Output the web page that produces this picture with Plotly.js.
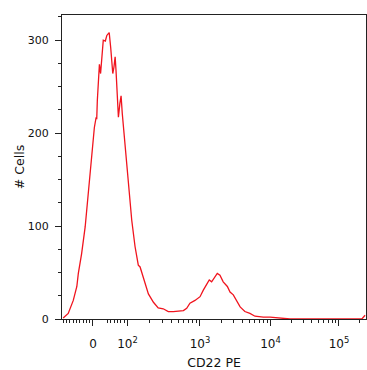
<!DOCTYPE html>
<html>
<head>
<meta charset="utf-8">
<script src="https://cdn.plot.ly/plotly-3.0.1.min.js"></script>
<style>html,body{margin:0;padding:0;background:#fff;}#chart{width:367px;height:370px;}</style>
</head>
<body>
<div id="chart"></div>
<script>
// Histogram, x in display channel units (0-1024, biexponential scale)
const channel = [4,21,38,50,55,66,78,89,100,109,115,117,119,126,130,135,139,146,151,156,159,164,171,175,179,182,186,190,195,199,203,209,218,226,235,246,257,263,269,280,291,308,324,341,358,375,392,409,420,431,448,465,476,487,496,504,515,523,532,543,557,566,577,589,600,616,633,650,678,701,728,741,768,850,950,1010,1021];
const cells   = [1,6,20,35,49,70,99,135,171,206,217,215,235,274,264,282,300,299,305,307,308,292,264,271,282,267,239,217,232,240,221,199,171,135,106,78,58,56,50,40,27,18,12,11,8,8,8.6,9,11.5,17,20,24,31,36.5,42,40,45,49,47,40,35,29,26,19,13,8,6,3,2,2,1.5,0.5,0,0,0,0,4];

// Axis labelling of the biexponential scale
const tickChannels = [104.4, 220.6, 464.8, 702.3, 933];
const tickLabels   = ['0', '10<sup>2</sup>', '10<sup>3</sup>', '10<sup>4</sup>', '10<sup>5</sup>'];
const linearStep = 11.2; // channel spacing of linear-region minor ticks
const yTicks = [0, 100, 200, 300];

// minor ticks: linear region around zero, then log spacing within each decade
const minorX = [];
for (let n = 1; n <= 9; n++) minorX.push(tickChannels[0] - linearStep * n);
for (let n = 1; n <= 6; n++) minorX.push(tickChannels[1] - linearStep * n);
for (let d = 1; d < tickChannels.length; d++) {
  const a = tickChannels[d];
  const w = d < tickChannels.length - 1 ? tickChannels[d + 1] - a : tickChannels[d] - tickChannels[d - 1];
  for (let m = 2; m <= 9; m++) {
    const v = a + w * Math.log10(m);
    if (v < 1024) minorX.push(v);
  }
}

const fam = 'DejaVu Sans, Verdana, sans-serif';
const yFont = {family: fam, size: 11, color: '#111'};
const xFont = {family: fam, size: 12, color: '#111'};
const titleFont = {family: fam, size: 12.5, color: '#111'};

Plotly.newPlot('chart', [{
  x: channel, y: cells, type: 'scatter', mode: 'lines',
  line: {color: '#f0141e', width: 1.3, shape: 'linear'},
  hoverinfo: 'skip', cliponaxis: false
}], {
  width: 367, height: 370,
  margin: {l: 62, r: 1, t: 15, b: 51, pad: 0},
  paper_bgcolor: '#fff', plot_bgcolor: '#fff',
  showlegend: false,
  font: yFont,
  xaxis: {
    range: [0, 1024], showgrid: false, zeroline: false,
    showline: true, linecolor: '#222', linewidth: 1, mirror: true,
    tickmode: 'array', tickvals: tickChannels, ticktext: tickLabels,
    ticks: 'outside', ticklen: 6, tickcolor: '#222', tickwidth: 1,
    ticklabelstandoff: 8,
    minor: {tickmode: 'array', tickvals: minorX, ticks: 'outside', ticklen: 3, tickcolor: '#222', tickwidth: 1, showgrid: false},
    tickfont: xFont, layer: 'below traces',
    title: {text: 'CD22 PE', font: titleFont, standoff: 8}
  },
  yaxis: {
    range: [0, 327], showgrid: false, zeroline: false,
    showline: true, linecolor: '#222', linewidth: 1, mirror: true,
    tickmode: 'array', tickvals: yTicks,
    ticks: 'outside', ticklen: 6, tickcolor: '#222', tickwidth: 1,
    ticklabelstandoff: 4,
    minor: {dtick: 25, tick0: 0, ticks: 'outside', ticklen: 3, tickcolor: '#222', tickwidth: 1, showgrid: false},
    tickfont: yFont, layer: 'below traces',
    title: {text: '# Cells', font: titleFont, standoff: 0}
  }
}, {staticPlot: true});
</script>
</body>
</html>
